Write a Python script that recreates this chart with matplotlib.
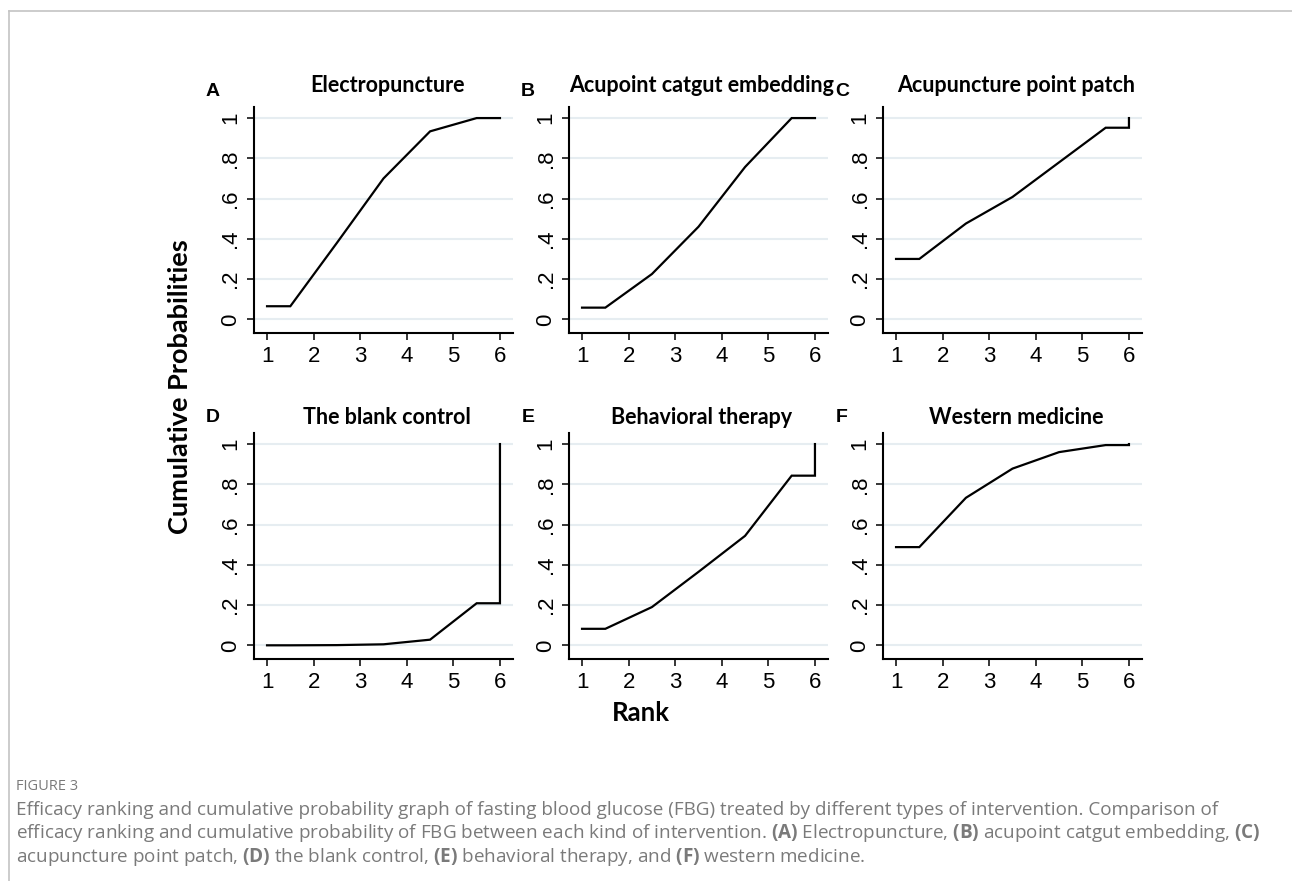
import numpy as np
import matplotlib.pyplot as plt
from matplotlib.lines import Line2D

# cumulative probability of being at rank <= r, r = 1..6
ranks = [1, 2, 3, 4, 5, 6]
titles = ['Electropuncture', 'Acupoint catgut embedding', 'Acupuncture point patch',
          'The blank control', 'Behavioral therapy', 'Western medicine']
letters = ['A', 'B', 'C', 'D', 'E', 'F']
cum_electro = [0.065, 0.38, 0.70, 0.934, 1.0, 1.0]
cum_catgut = [0.058, 0.225, 0.46, 0.757, 1.0, 1.0]
cum_patch = [0.30, 0.476, 0.608, 0.78, 0.952, 1.0]
cum_blank = [0.0, 0.001, 0.005, 0.028, 0.209, 1.0]
cum_behav = [0.082, 0.19, 0.365, 0.544, 0.843, 1.0]
cum_western = [0.488, 0.733, 0.878, 0.96, 0.995, 1.0]
curves = [cum_electro, cum_catgut, cum_patch, cum_blank, cum_behav, cum_western]

yticks = [0, 0.2, 0.4, 0.6, 0.8, 1]
yticklabels = ['0', '.2', '.4', '.6', '.8', '1']

plt.rcParams['mathtext.fontset'] = 'custom'
plt.rcParams['mathtext.bf'] = 'Open Sans:bold'
plt.rcParams['mathtext.rm'] = 'Open Sans'

W, H = 1292, 881
fig = plt.figure(figsize=(W / 100, H / 100), dpi=100)

def fx(px):
    return px / W

def fy(py):
    return 1 - py / H

col_left = [254, 569, 883]
row_top = [107, 433]
ax_w, ax_h = 259, 226

tick_font = 'Liberation Sans'
title_font = 'Lato'

for i, c in enumerate(curves):
    r, k = divmod(i, 3)
    left, top = col_left[k], row_top[r]
    ax = fig.add_axes([fx(left), fy(top + ax_h), ax_w / W, ax_h / H])
    # Stata-style sucra path: flat to 1.5, midpoints, flat to 6, jump to 1
    xs = [ranks[0], 1.5, 2.5, 3.5, 4.5, 5.5, ranks[-1], ranks[-1]]
    ys = [c[0], c[0], c[1], c[2], c[3], c[4], c[4], c[5]]
    ax.plot(xs, ys, color='black', lw=1.6, solid_joinstyle='miter')
    ax.set_xlim(0.72, 6.28)
    ax.set_ylim(-0.068, 1.055)
    ax.set_xticks(ranks)
    ax.set_yticks(yticks)
    ax.set_yticklabels(yticklabels, rotation=90, va='center')
    for sp in ['top', 'right']:
        ax.spines[sp].set_visible(False)
    for sp in ['left', 'bottom']:
        ax.spines[sp].set_linewidth(1.5)
    ax.tick_params(direction='out', length=5, width=1.1, labelsize=16, pad=4)
    for lab in ax.get_xticklabels() + ax.get_yticklabels():
        lab.set_fontfamily(tick_font)
    for yv in yticks:
        ax.axhline(yv, color='#e6edf1', lw=1.5, zorder=0)
    # panel letter and title
    fig.text(fx(left - 41), fy(top - 15 + (-1 if r == 1 else 0)), letters[i], fontsize=14,
             fontweight='bold', family=tick_font, ha='center', va='center')
    fig.text(fx(left + 133), fy(top - 22 + (6 if r == 1 else 0)), titles[i], fontsize=15.5,
             fontweight='bold', family=title_font, ha='center', va='center')

fig.text(fx(180), fy(387), 'Cumulative Probabilities', rotation=90, fontsize=19.5,
         fontweight='bold', family=title_font, ha='center', va='center')
fig.text(fx(641), fy(713), 'Rank', fontsize=18.5, fontweight='bold', family=title_font,
         ha='center', va='center')

# caption
cap_color = '#7a7a7a'
fig.text(fx(16), fy(786), 'FIGURE 3', fontsize=10.5, family='Open Sans', color=cap_color,
         va='center')
caption = [
    'Efficacy ranking and cumulative probability graph of fasting blood glucose (FBG) treated by different types of intervention. Comparison of',
    'efficacy ranking and cumulative probability of FBG between each kind of intervention. $\\bf{(A)}$ Electropuncture, $\\bf{(B)}$ acupoint catgut embedding, $\\bf{(C)}$',
    'acupuncture point patch, $\\bf{(D)}$ the blank control, $\\bf{(E)}$ behavioral therapy, and $\\bf{(F)}$ western medicine.',
]
for j, line in enumerate(caption):
    fig.text(fx(16), fy(810 + 23.5 * j), line, fontsize=13.6, family='Open Sans',
             color=cap_color, va='center')

# light frame around the figure area
fig.add_artist(Line2D([fx(9), 1], [fy(11), fy(11)], color='#c4c4c4', lw=1.2))
fig.add_artist(Line2D([fx(9), fx(9)], [fy(11), 0], color='#c4c4c4', lw=1.2))

fig.savefig('out.png', dpi=100)
